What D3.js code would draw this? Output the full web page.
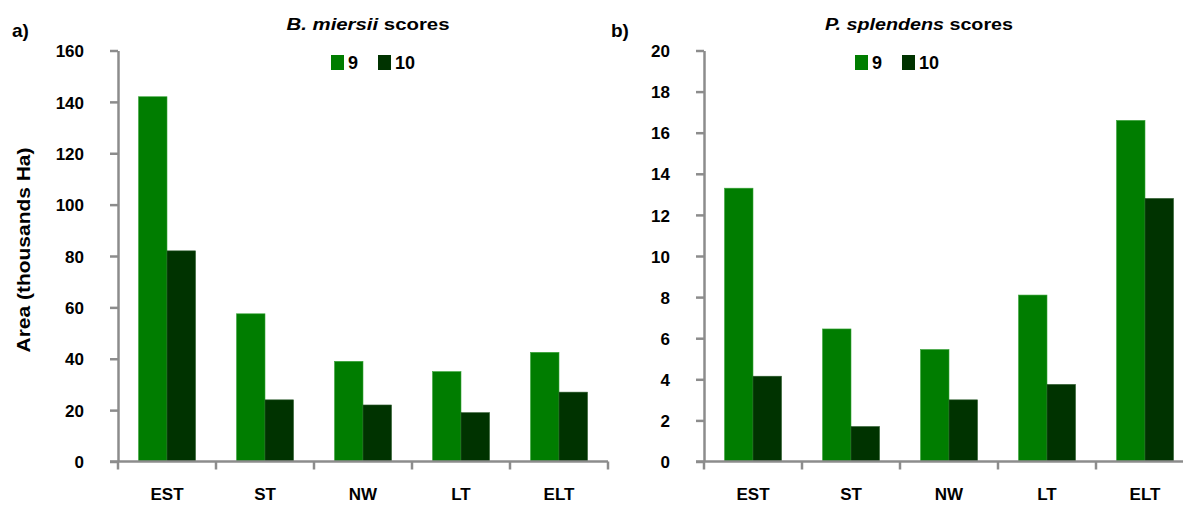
<!doctype html>
<html>
<head>
<meta charset="utf-8">
<style>
    body { margin: 0; background: #fff; }
    svg { display: block; }
    text { font-family: 'Liberation Sans', Arial, sans-serif; font-weight: bold; fill: #000; }
    .tick text { font-size: 17px; }
    .tick line, .domain, .xline { stroke: #8c8c8c; stroke-width: 2.5; }
    text.title { font-size: 16px; }
    text.legend { font-size: 18px; }
    text.panel { font-size: 19px; }
    text.ylabel { font-size: 19px; }
</style>
<script src="https://d3js.org/d3.v7.min.js"></script>
</head>
<body>
<svg width="1183" height="505"></svg>
<script>
// categories + series
const categories = ['EST', 'ST', 'NW', 'LT', 'ELT']
const series = ['9', '10']
const colors = ['#007d00', '#003300']

// a) B. miersii (thousands Ha)
const miersii9 = [142, 57.5, 39, 35, 42.5]
const miersii10 = [82, 24, 22, 19, 27]
const miersiiTicks = [0, 20, 40, 60, 80, 100, 120, 140, 160]

// b) P. splendens (thousands Ha)
const splendens9 = [13.3, 6.45, 5.45, 8.1, 16.6]
const splendens10 = [4.15, 1.7, 3, 3.75, 12.8]
const splendensTicks = [0, 2, 4, 6, 8, 10, 12, 14, 16, 18, 20]

const svg = d3.select('svg')
const yTop = 50.5, yBottom = 461.5

function panel(cfg) {
    const g = svg.append('g')

    const x = d3.scaleBand()
        .domain(categories)
        .range([cfg.x0, cfg.x0 + 98 * categories.length])
    const xs = d3.scaleBand()
        .domain(series)
        .range([0, x.bandwidth()])
        .paddingOuter(0.72)
    const y = d3.scaleLinear()
        .domain([0, cfg.max])
        .range([yBottom, yTop])

    // bars
    const rows = categories.map((c, i) => ({ c: c, v: [cfg.s9[i], cfg.s10[i]] }))
    g.selectAll('g.cat')
        .data(rows)
        .join('g')
        .attr('class', 'cat')
        .selectAll('rect')
        .data(d => d.v.map((v, k) => ({ c: d.c, s: series[k], v: v, k: k })))
        .join('rect')
        .attr('x', d => x(d.c) + xs(d.s))
        .attr('y', d => y(d.v))
        .attr('width', xs.bandwidth())
        .attr('height', d => yBottom - y(d.v))
        .attr('fill', d => colors[d.k])
        .attr('stroke', d => d.k ? '#2a5a2a' : '#3aa53a')
        .attr('stroke-width', 0.6)

    // y axis
    const yAxis = g.append('g')
        .attr('transform', `translate(${cfg.x0}, 0)`)
        .call(d3.axisLeft(y).tickValues(cfg.ticks).tickSize(8).tickSizeOuter(0).tickPadding(26))
    yAxis.selectAll('.tick text').attr('dy', '0.36em')

    // x axis: line + boundary ticks + labels
    const xr = x.range()
    g.append('line').attr('class', 'xline')
        .attr('x1', xr[0] - 8).attr('x2', xr[1])
        .attr('y1', yBottom).attr('y2', yBottom)
    g.selectAll('line.xt')
        .data(d3.range(categories.length + 1))
        .join('line')
        .attr('class', 'xline xt')
        .attr('x1', i => xr[0] + i * x.step()).attr('x2', i => xr[0] + i * x.step())
        .attr('y1', yBottom).attr('y2', yBottom + 8)
    g.selectAll('text.xl')
        .data(categories)
        .join('text')
        .attr('class', 'xl')
        .attr('x', d => x(d) + x.bandwidth() / 2)
        .attr('y', 500)
        .attr('text-anchor', 'middle')
        .style('font-size', '17px')
        .text(d => d)

    // panel letter
    g.append('text').attr('class', 'panel')
        .attr('x', cfg.letterX).attr('y', 37)
        .text(cfg.letter)

    // title
    const t = g.append('text').attr('class', 'title')
        .attr('x', cfg.titleX).attr('y', 30)
        .attr('text-anchor', 'middle')
        .attr('textLength', cfg.titleLen)
        .attr('lengthAdjust', 'spacingAndGlyphs')
    t.append('tspan').style('font-style', 'italic').text(cfg.species)
    t.append('tspan').text(' scores')

    // legend
    const lg = g.append('g').attr('transform', `translate(${cfg.legendX}, 63)`)
    series.forEach((s, k) => {
        lg.append('rect')
            .attr('x', k * 47).attr('y', -8)
            .attr('width', 13).attr('height', 15)
            .attr('fill', colors[k])
        lg.append('text').attr('class', 'legend')
            .attr('x', k * 47 + 17).attr('y', 6)
            .text(s)
    })
}

panel({ x0: 118, max: 160, ticks: miersiiTicks, s9: miersii9, s10: miersii10,
        letter: 'a)', letterX: 12, titleX: 368, titleLen: 163, species: 'B. miersii', legendX: 331 })
panel({ x0: 704, max: 20, ticks: splendensTicks, s9: splendens9, s10: splendens10,
        letter: 'b)', letterX: 611, titleX: 919, titleLen: 188, species: 'P. splendens', legendX: 855 })

svg.append('text')
    .attr('class', 'ylabel')
    .attr('transform', 'translate(30, 250) rotate(-90)')
    .attr('text-anchor', 'middle')
    .attr('textLength', 205)
    .attr('lengthAdjust', 'spacingAndGlyphs')
    .text('Area (thousands Ha)')
</script>
</body>
</html>
